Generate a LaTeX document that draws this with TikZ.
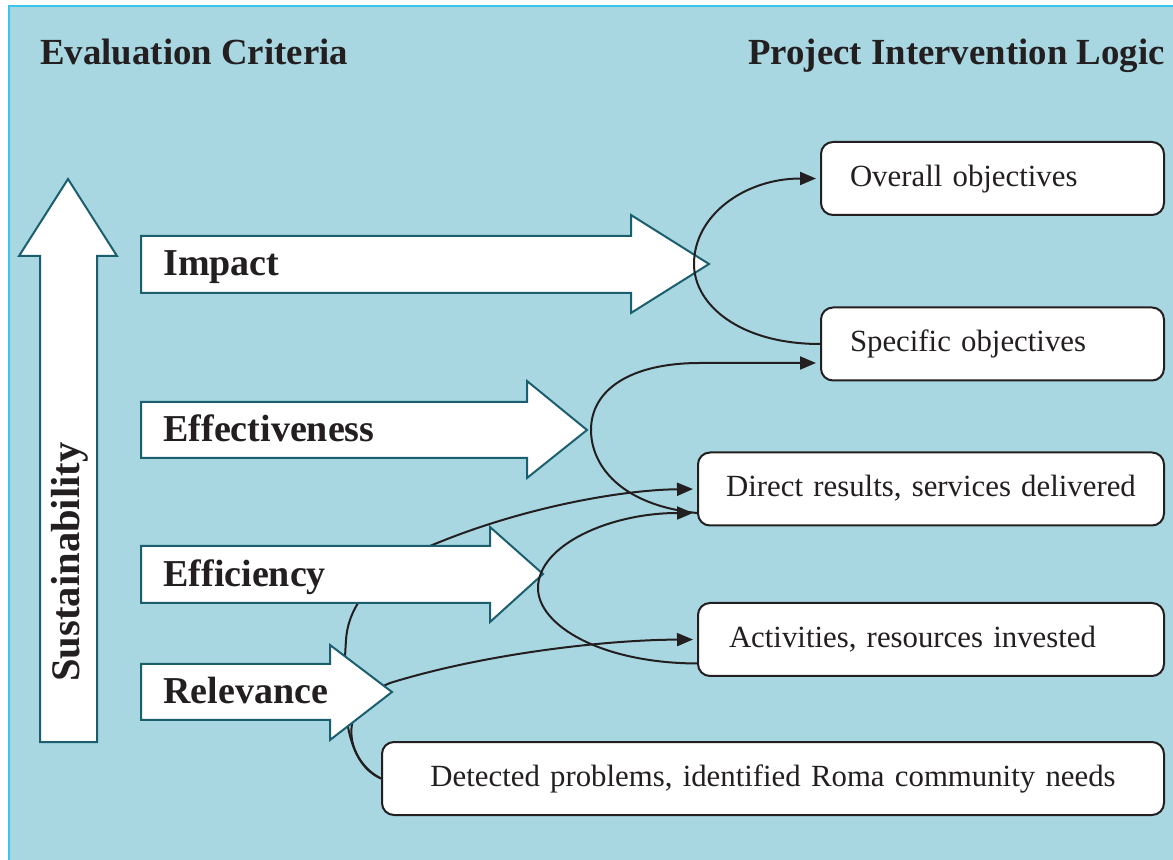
\documentclass[tikz,border=0pt]{standalone}
\usepackage{fontspec}
\setmainfont{Liberation Serif}
\usetikzlibrary{arrows.meta,calc}
\definecolor{bgblue}{HTML}{A8D7E2}
\definecolor{edgeblue}{HTML}{3CC3EE}
\definecolor{arrowedge}{HTML}{1B5F6F}
\definecolor{ink}{HTML}{231F20}
\begin{document}
\begin{tikzpicture}[x=0.5pt,y=-0.5pt,
  ttl/.style={font=\fontsize{18.4}{22}\selectfont\bfseries, text=ink, inner sep=0pt},
  clabel/.style={font=\fontsize{19}{22}\selectfont\bfseries, text=ink, inner sep=0pt, anchor=base west},
  cbox/.style={draw=ink, line width=1pt, fill=white, rounded corners=6pt, minimum height=36.5pt,
    font=\fontsize{15.4}{19}\selectfont, text=ink, text height=0.85em, text depth=0.05em},
  blockarr/.style={draw=arrowedge, line width=1pt, fill=white, line join=miter},
  conn/.style={draw=ink, line width=1pt},
  conntip/.style={conn, -{Triangle[length=8pt,width=6.5pt]}, shorten >=2pt}
]
% background
\useasboundingbox (0,0) rectangle (1173,860);
\fill[white] (0,0) rectangle (1173,860);
\fill[bgblue] (9,6) rectangle (1173,860);
\draw[edgeblue, line width=1.2pt] (9,860) -- (9,6) -- (1173,6);

% titles
\node[ttl, anchor=base west] (evtitle) at (40,65) {Evaluation Criteria};
\node[ttl, anchor=base east] (pltitle) at (1165,65) {Project Intervention Logic};

% boxes
\node[cbox, minimum width=171.5pt, text width=142.5pt, inner xsep=14.5pt, align=left] (over) at (992.5,178.5) {Overall objectives};
\node[cbox, minimum width=171.5pt, text width=142.5pt, inner xsep=14.5pt, align=left] (spec) at (992.5,344) {Specific objectives};
\node[cbox, minimum width=233pt, text width=223pt, inner xsep=5pt, align=center] (dir) at (931,489) {Direct results, services delivered};
\node[cbox, minimum width=233pt, text width=202pt, inner xsep=15.5pt, align=left] (act) at (931,639.5) {Activities, resources invested};
\node[cbox, minimum width=391pt, text width=375pt, inner xsep=8pt, align=center] (det) at (773,778.5) {Detected problems, identified Roma community needs};

% relevance connectors (behind the block arrows)
\draw[conntip] (det.west) .. controls (343,762) and (342,700) .. (346,640)
  .. controls (349,590) and (400,560) .. (430,546)
  .. controls (520,508) and (620,490) .. (dir.west);
\draw[conntip] (det.west) .. controls (345,760) and (335,705) .. (390,683)
  .. controls (480,655) and (600,640) .. (act.west);

% sustainability arrow
\draw[blockarr] (40,742) -- (40,256) -- (19,256) -- (68,179) -- (117,256) -- (97,256) -- (97,742) -- cycle;
\node[clabel, font=\fontsize{20.3}{24}\selectfont\bfseries, rotate=90, anchor=base] (sus) at (79,562) {Sustainability};

% criteria block arrows
\draw[blockarr] (141,236) -- (631,236) -- (631,215) -- (709,264) -- (631,313) -- (631,293) -- (141,293) -- cycle;
\node[clabel] (imp) at (163,276) {Impact};
\draw[blockarr] (141,402) -- (527,402) -- (527,381) -- (587,430) -- (527,478) -- (527,458) -- (141,458) -- cycle;
\node[clabel] (eff) at (163,442) {Effectiveness};
\draw[blockarr] (141,546) -- (490,546) -- (490,527) -- (543,574) -- (490,622) -- (490,603) -- (141,603) -- cycle;
\node[clabel] (efc) at (163,587) {Efficiency};
\draw[blockarr] (141,664) -- (330,664) -- (330,645) -- (392,692) -- (330,740) -- (330,720) -- (141,720) -- cycle;
\node[clabel] (rel) at (163,704) {Relevance};

% impact: specific -> overall
\draw[conntip] (spec.west) .. controls (740,344) and (694,305) .. (694,264)
  .. controls (694,215) and (745,178.5) .. (over.west);
% effectiveness: direct results -> specific
\draw[conntip] ($(dir.west)+(0,24)$) .. controls (620,505) and (591,465) .. (591,430)
  .. controls (591,390) and (630,363) .. (700,363) -- ($(spec.west)+(0,19)$);
% efficiency: activities -> direct results
\draw[conntip] ($(act.west)+(0,24)$) .. controls (600,663) and (538,625) .. (538,588)
  .. controls (538,545) and (610,513) .. ($(dir.west)+(0,24)$);
\end{tikzpicture}
\end{document}
